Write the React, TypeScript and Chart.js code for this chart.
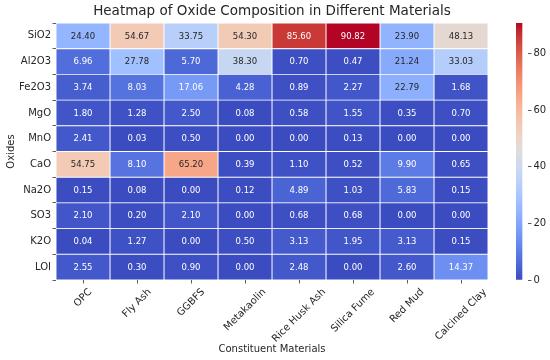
import React, { useEffect, useRef } from 'react';
import { Chart, registerables } from 'chart.js';

Chart.register(...registerables);

const materials = ['OPC', 'Fly Ash', 'GGBFS', 'Metakaolin', 'Rice Husk Ash', 'Silica Fume', 'Red Mud', 'Calcined Clay'];
const oxides = ['SiO2', 'Al2O3', 'Fe2O3', 'MgO', 'MnO', 'CaO', 'Na2O', 'SO3', 'K2O', 'LOI'];

const sio2 = [24.40, 54.67, 33.75, 54.30, 85.60, 90.82, 23.90, 48.13];
const al2o3 = [6.96, 27.78, 5.70, 38.30, 0.70, 0.47, 21.24, 33.03];
const fe2o3 = [3.74, 8.03, 17.06, 4.28, 0.89, 2.27, 22.79, 1.68];
const mgo = [1.80, 1.28, 2.50, 0.08, 0.58, 1.55, 0.35, 0.70];
const mno = [2.41, 0.03, 0.50, 0.00, 0.00, 0.13, 0.00, 0.00];
const cao = [54.75, 8.10, 65.20, 0.39, 1.10, 0.52, 9.90, 0.65];
const na2o = [0.15, 0.08, 0.00, 0.12, 4.89, 1.03, 5.83, 0.15];
const so3 = [2.10, 0.20, 2.10, 0.00, 0.68, 0.68, 0.00, 0.00];
const k2o = [0.04, 1.27, 0.00, 0.50, 3.13, 1.95, 3.13, 0.15];
const loi = [2.55, 0.30, 0.90, 0.00, 2.48, 0.00, 2.60, 14.37];

const rows = [sio2, al2o3, fe2o3, mgo, mno, cao, na2o, so3, k2o, loi];
const colorbarTicks = [0, 20, 40, 60, 80];

const chartTitle = 'Heatmap of Oxide Composition in Different Materials';
const xTitle = 'Constituent Materials';
const yTitle = 'Oxides';

// coolwarm colormap control points
const coolwarm: number[][] = [
  [0.0, 59, 76, 192], [0.03125, 68, 90, 204], [0.0625, 77, 104, 215], [0.09375, 87, 117, 225],
  [0.125, 98, 130, 234], [0.15625, 108, 142, 241], [0.1875, 119, 154, 247], [0.21875, 130, 165, 251],
  [0.25, 141, 176, 254], [0.28125, 152, 185, 255], [0.3125, 163, 194, 255], [0.34375, 174, 201, 253],
  [0.375, 184, 208, 249], [0.40625, 194, 213, 244], [0.4375, 204, 217, 238], [0.46875, 213, 219, 230],
  [0.5, 221, 221, 221], [0.53125, 229, 216, 209], [0.5625, 236, 211, 197], [0.59375, 241, 204, 185],
  [0.625, 245, 196, 173], [0.65625, 247, 187, 160], [0.6875, 247, 177, 148], [0.71875, 247, 166, 135],
  [0.75, 244, 154, 123], [0.78125, 241, 141, 111], [0.8125, 236, 127, 99], [0.84375, 229, 112, 88],
  [0.875, 222, 96, 77], [0.90625, 213, 80, 66], [0.9375, 203, 62, 56], [0.96875, 192, 40, 47],
  [1.0, 180, 4, 38],
];

const vmin = 0;
const vmax = Math.max(...rows.map((r) => Math.max(...r)));

function rgbAt(t: number): number[] {
  const tt = Math.min(1, Math.max(0, t));
  for (let i = 0; i < coolwarm.length - 1; i++) {
    const a = coolwarm[i];
    const b = coolwarm[i + 1];
    if (tt >= a[0] && tt <= b[0]) {
      const f = (tt - a[0]) / (b[0] - a[0]);
      return [a[1] + (b[1] - a[1]) * f, a[2] + (b[2] - a[2]) * f, a[3] + (b[3] - a[3]) * f];
    }
  }
  const l = coolwarm[coolwarm.length - 1];
  return [l[1], l[2], l[3]];
}

function colorFor(v: number): string {
  const c = rgbAt((v - vmin) / (vmax - vmin));
  return `rgb(${Math.round(c[0])},${Math.round(c[1])},${Math.round(c[2])})`;
}

function textColorFor(v: number): string {
  const c = rgbAt((v - vmin) / (vmax - vmin)).map((x) => {
    const s = x / 255;
    return s <= 0.03928 ? s / 12.92 : Math.pow((s + 0.055) / 1.055, 2.4);
  });
  const lum = 0.2126 * c[0] + 0.7152 * c[1] + 0.0722 * c[2];
  return lum > 0.408 ? '#262626' : '#ffffff';
}

const FONT = 'DejaVu Sans';
const TEXT = '#262626';

const cellLabels = {
  id: 'cellLabels',
  afterDatasetsDraw(chart: any) {
    const ctx = chart.ctx;
    ctx.save();
    ctx.font = `8.5px "${FONT}"`;
    ctx.textAlign = 'center';
    ctx.textBaseline = 'middle';
    chart.data.datasets.forEach((_ds: any, c: number) => {
      const meta = chart.getDatasetMeta(c);
      meta.data.forEach((bar: any, r: number) => {
        const p = bar.getProps(['x', 'y', 'base'], true);
        const v = rows[r][c];
        ctx.fillStyle = textColorFor(v);
        ctx.fillText(v.toFixed(2), (p.x + p.base) / 2, p.y + 0.5);
      });
    });
    ctx.restore();
  },
};

const xLabels = {
  id: 'xLabels',
  afterDraw(chart: any) {
    const ctx = chart.ctx;
    const xs = chart.scales.x;
    const area = chart.chartArea;
    ctx.save();
    ctx.font = `10px "${FONT}"`;
    ctx.fillStyle = TEXT;
    ctx.textAlign = 'center';
    ctx.textBaseline = 'middle';
    materials.forEach((m, i) => {
      const px = xs.getPixelForValue(i + 0.5);
      const ytop = area.bottom + 3.5 + 3.5;
      const w = ctx.measureText(m).width;
      const h = 10;
      const d = ((w + h) * Math.SQRT1_2) / 2;
      ctx.save();
      ctx.translate(px, ytop + d);
      ctx.rotate(-Math.PI / 4);
      ctx.fillText(m, 0, 0);
      ctx.restore();
    });
    ctx.restore();
  },
};

export default function App() {
  const mainRef = useRef<HTMLCanvasElement | null>(null);
  const barRef = useRef<HTMLCanvasElement | null>(null);

  useEffect(() => {
    Chart.defaults.font.family = FONT;
    Chart.defaults.color = TEXT;

    const datasets = materials.map((m, c) => ({
      label: m,
      data: oxides.map(() => [c, c + 1]),
      backgroundColor: rows.map((r) => colorFor(r[c])),
      borderColor: '#ffffff',
      borderWidth: 0.8,
      borderSkipped: false,
      barPercentage: 1,
      categoryPercentage: 1,
    }));

    const main = new Chart(mainRef.current as HTMLCanvasElement, {
      type: 'bar',
      data: { labels: oxides, datasets: datasets as any },
      options: {
        indexAxis: 'y',
        animation: false,
        responsive: false,
        maintainAspectRatio: false,
        devicePixelRatio: 1,
        layout: { padding: { left: 0, right: 12, top: 0, bottom: 0 } },
        plugins: {
          legend: { display: false },
          tooltip: { enabled: false },
          title: {
            display: true,
            text: chartTitle,
            fullSize: false,
            color: TEXT,
            font: { family: FONT, size: 13.5, weight: 'normal' },
            padding: { top: 3, bottom: 3.8 },
          },
        },
        scales: {
          x: {
            type: 'linear',
            position: 'bottom',
            min: 0,
            max: materials.length,
            stacked: false,
            afterBuildTicks: (scale: any) => {
              scale.ticks = materials.map((_, i) => ({ value: i + 0.5 }));
            },
            afterFit: (scale: any) => {
              scale.height = 80;
            },
            ticks: { display: false },
            grid: {
              display: true,
              drawOnChartArea: false,
              drawTicks: true,
              tickLength: 3.5,
              tickColor: '#333333',
              tickWidth: 0.8,
            },
            border: { display: false },
            title: {
              display: true,
              text: xTitle,
              color: TEXT,
              font: { family: FONT, size: 10 },
              padding: { top: 0, bottom: 5 },
            },
          },
          y: {
            type: 'category',
            position: 'left',
            stacked: true,
            afterFit: (scale: any) => {
              scale.width = 56;
            },
            ticks: { color: TEXT, font: { family: FONT, size: 10 }, padding: 1.5 },
            grid: {
              display: true,
              drawOnChartArea: false,
              drawTicks: true,
              tickLength: 3.5,
              tickColor: '#333333',
              tickWidth: 0.8,
            },
            border: { display: false },
            title: {
              display: true,
              text: yTitle,
              color: TEXT,
              font: { family: FONT, size: 10 },
              padding: { top: 5, bottom: 0 },
            },
          },
        },
      },
      plugins: [cellLabels, xLabels],
    });

    const colorbar = new Chart(barRef.current as HTMLCanvasElement, {
      type: 'bar',
      data: {
        labels: ['scale'],
        datasets: [
          {
            label: 'scale',
            data: [[vmin, vmax]] as any,
            backgroundColor: (ctx: any) => {
              const area = ctx.chart.chartArea;
              if (!area) return colorFor(vmax / 2);
              const g = ctx.chart.ctx.createLinearGradient(0, area.bottom, 0, area.top);
              coolwarm.forEach((p) => g.addColorStop(p[0], `rgb(${p[1]},${p[2]},${p[3]})`));
              return g;
            },
            borderWidth: 0,
            barPercentage: 1,
            categoryPercentage: 1,
          },
        ],
      },
      options: {
        animation: false,
        responsive: false,
        maintainAspectRatio: false,
        devicePixelRatio: 1,
        layout: { padding: { left: 16, right: 0, top: 23, bottom: 80 } },
        plugins: { legend: { display: false }, tooltip: { enabled: false }, title: { display: false } },
        scales: {
          x: { display: false, offset: false },
          y: {
            position: 'right',
            min: vmin,
            max: vmax,
            afterBuildTicks: (scale: any) => {
              scale.ticks = colorbarTicks.map((v) => ({ value: v }));
            },
            afterFit: (scale: any) => {
              scale.width = 22;
            },
            ticks: { color: TEXT, font: { family: FONT, size: 10 }, padding: 2 },
            grid: {
              display: true,
              drawOnChartArea: false,
              drawTicks: true,
              tickLength: 3.5,
              tickColor: '#333333',
              tickWidth: 0.8,
            },
            border: { display: false },
          },
        },
      },
    });

    return () => {
      main.destroy();
      colorbar.destroy();
    };
  }, []);

  return (
    <div style={{ position: 'absolute', left: 0, top: 0, width: 550, height: 360, background: '#ffffff' }}>
      <canvas ref={mainRef} width={500} height={360} style={{ position: 'absolute', left: 0, top: 0 }} />
      <canvas ref={barRef} width={50} height={360} style={{ position: 'absolute', left: 500, top: 0 }} />
    </div>
  );
}
